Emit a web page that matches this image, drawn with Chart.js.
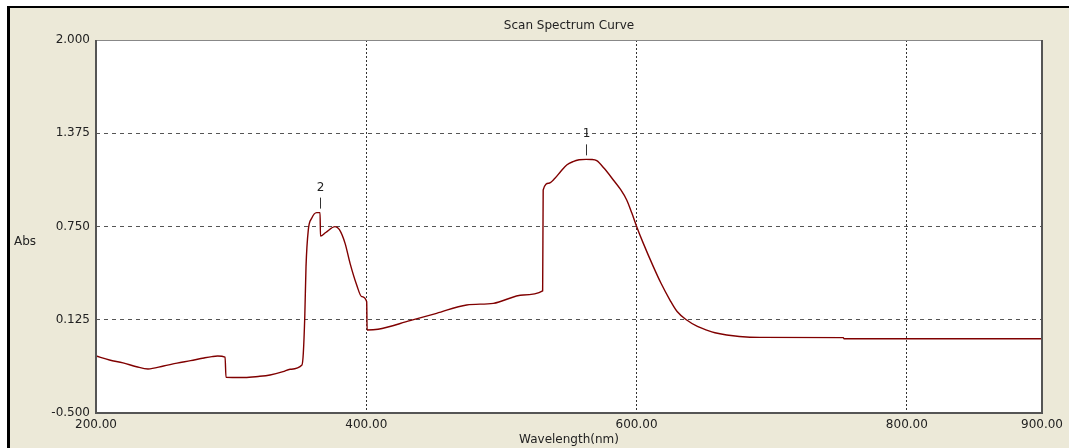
<!DOCTYPE html>
<html>
<head>
<meta charset="utf-8">
<script src="https://cdn.jsdelivr.net/npm/chart.js@4.4.1/dist/chart.umd.min.js"></script>
<style>
  html, body { margin: 0; padding: 0; background: #fff; }
  canvas { display: block; }
</style>
</head>
<body>
<canvas id="spectrum" width="1069" height="448"></canvas>
<script>
// wavelength (nm) and absorbance
const wavelengths = [200, 210, 220, 230, 238.5, 250, 260, 270, 280, 285.8, 290, 295.5,
  296.2, 301, 310, 320, 328.8, 338.4, 343.6, 352.4, 353.4, 354.5, 355.4, 357.1, 359.6,
  363.3, 365.8, 366.1, 370, 376.9, 380, 384.3, 388, 392.9, 396.6, 400.3, 400.6, 408.7,
  432.3, 452, 474.3, 494, 516.2, 530.5, 530.9, 535, 539.6, 544, 548.3, 553, 557.5, 562.6,
  566.5, 570.5, 576, 582.8, 588, 592.7, 596.5, 600.1, 605, 612.4, 618, 624.7, 630, 637.1,
  645, 651.9, 658, 666.7, 676, 691.3, 753, 753.5, 900];
const absorbance = [-0.118, -0.145, -0.164, -0.19, -0.205, -0.185, -0.166, -0.149, -0.131, -0.122, -0.118, -0.125,
  -0.261, -0.262, -0.262, -0.255, -0.245, -0.223, -0.207, -0.178, -0.1, 0.15, 0.481, 0.727, 0.805,
  0.843, 0.843, 0.686, 0.71, 0.749, 0.73, 0.637, 0.503, 0.358, 0.28, 0.246, 0.056, 0.061,
  0.119, 0.168, 0.224, 0.235, 0.291, 0.318, 0.995, 1.04, 1.073, 1.12, 1.162, 1.185, 1.197, 1.2,
  1.199, 1.191, 1.14, 1.062, 1.0, 0.928, 0.84, 0.749, 0.637, 0.481, 0.371, 0.257, 0.18, 0.123,
  0.08, 0.056, 0.038, 0.023, 0.013, 0.007, 0.005, -0.002, -0.002];

const xTicks = [200, 400, 600, 800, 900];
const yTicks = [-0.5, 0.125, 0.75, 1.375, 2.0];

// peak markers
const peakNames = ['1', '2'];
const peakWl = [562.6, 365.8];
const peakAbs = [1.2, 0.843];

const FONT = '12px "DejaVu Sans"';

const framePlugin = {
  id: 'frame',
  beforeDraw(chart) {
    const { ctx, width, height, chartArea: a } = chart;
    ctx.save();
    ctx.fillStyle = '#fff';
    ctx.fillRect(0, 0, width, height);
    ctx.fillStyle = '#ECE9D8';
    ctx.fillRect(9, 8, width, height);
    ctx.fillStyle = '#000';
    ctx.fillRect(7, 6, width, 2);
    ctx.fillRect(7, 6, 3, height);
    ctx.fillStyle = '#fff';
    ctx.fillRect(a.left, a.top, a.right - a.left, a.bottom - a.top);
    ctx.restore();
  },
  afterDraw(chart) {
    const { ctx, chartArea: a, scales } = chart;
    ctx.save();
    ctx.strokeStyle = '#888';
    ctx.lineWidth = 1;
    ctx.beginPath();
    ctx.moveTo(a.left, a.top + 0.5);
    ctx.lineTo(a.right, a.top + 0.5);
    ctx.stroke();
    ctx.strokeStyle = '#555';
    ctx.lineWidth = 2;
    ctx.beginPath();
    ctx.moveTo(a.left, a.top);
    ctx.lineTo(a.left, a.bottom);
    ctx.lineTo(a.right, a.bottom);
    ctx.lineTo(a.right, a.top);
    ctx.stroke();

    ctx.fillStyle = '#222';
    ctx.font = FONT;
    ctx.textAlign = 'center';
    ctx.textBaseline = 'middle';
    ctx.fillText('Scan Spectrum Curve', (a.left + a.right) / 2, 26);
    ctx.fillText('Wavelength(nm)', (a.left + a.right) / 2, 440);
    ctx.textAlign = 'left';
    ctx.fillText('Abs', 14, 242);

    // peak labels
    ctx.strokeStyle = '#333';
    ctx.lineWidth = 1;
    peakNames.forEach((name, i) => {
      const px = Math.round(scales.x.getPixelForValue(peakWl[i])) + 0.5;
      const py = scales.y.getPixelForValue(peakAbs[i]);
      ctx.beginPath();
      ctx.moveTo(px, py - 4);
      ctx.lineTo(px, py - 15);
      ctx.stroke();
      ctx.textAlign = 'center';
      ctx.fillText(name, px, py - 25);
    });
    ctx.restore();
  }
};

new Chart(document.getElementById('spectrum'), {
  type: 'line',
  data: {
    datasets: [{
      data: wavelengths.map((w, i) => ({ x: w, y: absorbance[i] })),
      borderColor: '#800000',
      borderWidth: 1.4,
      pointRadius: 0,
      cubicInterpolationMode: 'monotone',
      fill: false
    }]
  },
  options: {
    responsive: false,
    animation: false,
    devicePixelRatio: 1,
    layout: { padding: { top: 40, right: 27, left: 0, bottom: 0 } },
    plugins: { legend: { display: false }, tooltip: { enabled: false }, title: { display: false } },
    scales: {
      x: {
        type: 'linear',
        min: 200,
        max: 900,
        afterBuildTicks: s => { s.ticks = xTicks.map(v => ({ value: v })); },
        afterFit: s => { s.height = 35; },
        ticks: {
          padding: 5,
          maxRotation: 0,
          autoSkip: false,
          color: '#222',
          font: { family: 'DejaVu Sans', size: 12 },
          callback: v => Number(v).toFixed(2)
        },
        grid: {
          drawTicks: false,
          color: c => (c.tick && (c.tick.value === 200 || c.tick.value === 900)) ? 'rgba(0,0,0,0)' : '#333',
          lineWidth: 1
        },
        border: { display: false, dash: [2, 2] }
      },
      y: {
        min: -0.5,
        max: 2.0,
        afterBuildTicks: s => { s.ticks = yTicks.map(v => ({ value: v })); },
        afterFit: s => { s.width = 96; },
        ticks: {
          padding: 6,
          color: '#222',
          font: { family: 'DejaVu Sans', size: 12 },
          callback: v => Number(v).toFixed(3)
        },
        grid: {
          drawTicks: false,
          color: c => (c.tick && (c.tick.value === -0.5 || c.tick.value === 2)) ? 'rgba(0,0,0,0)' : '#555',
          lineWidth: 1
        },
        border: { display: false, dash: [4, 4] }
      }
    }
  },
  plugins: [framePlugin]
});
</script>
</body>
</html>
